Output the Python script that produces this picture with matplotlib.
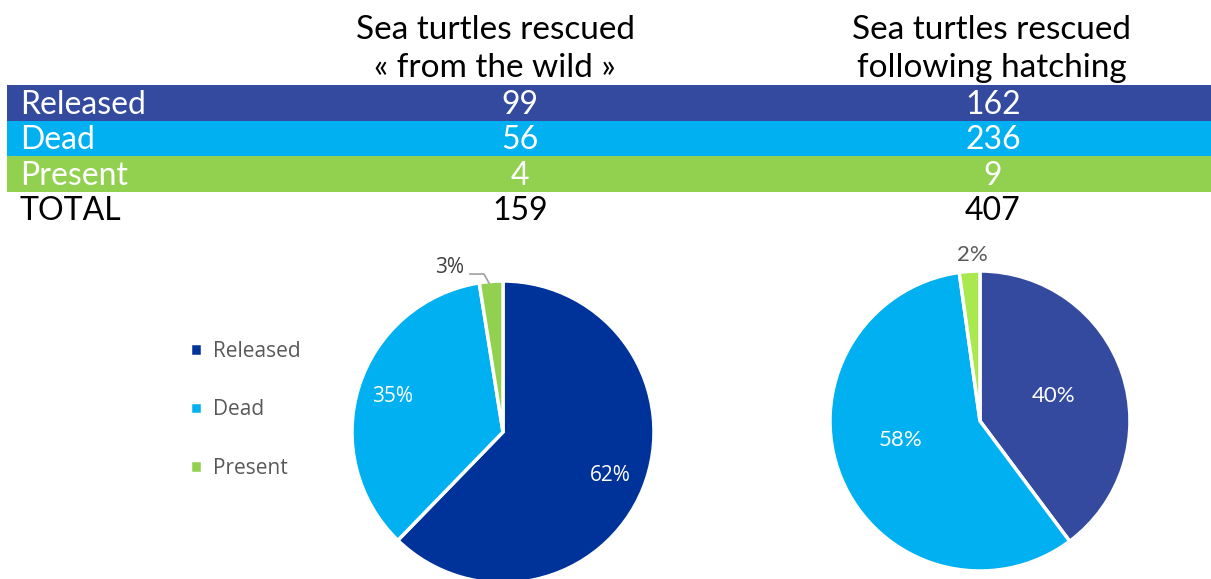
import matplotlib
matplotlib.use('Agg')
import matplotlib.pyplot as plt
from matplotlib.patches import Rectangle

categories = ['Released', 'Dead', 'Present']
column_titles = ['Sea turtles rescued\n\u00ab from the wild \u00bb',
                 'Sea turtles rescued\nfollowing hatching']
wild = [99, 56, 4]
hatching = [162, 236, 9]

band_colors = ['#334a9e', '#00b0f0', '#92d050']
pie1_colors = ['#003399', '#00b0f0', '#92d050']
pie2_colors = ['#334a9e', '#00b0f0', '#a9e94f']

W, H = 1211, 579
fig = plt.figure(figsize=(W / 100, H / 100), dpi=100)

# table area in pixel coordinates
tab = fig.add_axes([0, 0, 1, 1])
tab.set_xlim(0, W)
tab.set_ylim(H, 0)
tab.axis('off')

tfont = 'Lato'
col_x = [520, 993]
for x, title in zip([495, 992], column_titles):
    tab.text(x, 49, title, ha='center', va='center', fontsize=24,
             family=tfont, linespacing=1.3)

row_top = 85
row_h = 35.5
for i, cat in enumerate(categories):
    y0 = row_top + i * row_h
    tab.add_patch(Rectangle((7, y0), W - 7, row_h, color=band_colors[i], lw=0))
    yc = y0 + row_h / 2 + 2
    tab.text(20, yc, cat, ha='left', va='center', color='white', fontsize=23,
             family=tfont)
    for x, vals in zip(col_x, [wild, hatching]):
        tab.text(x, yc, str(vals[i]), ha='center', va='center', color='white',
                 fontsize=23, family=tfont)

yc = row_top + 3 * row_h + row_h / 2 + 2
tab.text(20, yc, 'TOTAL', ha='left', va='center', fontsize=23, family=tfont)
for x, vals in zip(col_x, [wild, hatching]):
    tab.text(x, yc, str(sum(vals)), ha='center', va='center', fontsize=23,
             family=tfont)


def pie_axes(cx, cy, r):
    ax = fig.add_axes([(cx - r) / W, (H - cy - r) / H, 2 * r / W, 2 * r / H])
    ax.axis('off')
    return ax


# left pie
ax1 = pie_axes(503, 432, 151)
wedges1, _, autos1 = ax1.pie(wild, colors=pie1_colors, startangle=90,
                             counterclock=False, radius=1,
                             wedgeprops=dict(edgecolor='white', linewidth=2.5),
                             autopct='%.0f%%', pctdistance=0.77,
                             textprops=dict(color='white', fontsize=15,
                                            family='Open Sans'))
ax1.set_aspect('auto')
ax1.set_xlim(-1, 1)
ax1.set_ylim(-1, 1)
# small slice: label outside with a leader line
autos1[2].set_position((-0.26, 1.087))
autos1[2].set_ha('right')
autos1[2].set_color('#404040')
autos1[2].set_clip_on(False)
ax1.plot([-0.218, -0.126, -0.093], [1.046, 1.046, 0.987], color='#a6a6a6',
         lw=1.3, clip_on=False, solid_joinstyle='miter')

ax1.legend(wedges1, categories, loc='center left', bbox_to_anchor=(-0.535, 0.573),
           frameon=False, handlelength=0.55, handleheight=0.55,
           handletextpad=0.55, borderaxespad=0, borderpad=0,
           labelspacing=1.8, labelcolor='#595959',
           prop=dict(family='Open Sans', size=15))

# right pie
ax2 = pie_axes(980, 421, 150)
wedges2, _, autos2 = ax2.pie(hatching, colors=pie2_colors, startangle=90,
                             counterclock=False, radius=1,
                             wedgeprops=dict(edgecolor='white', linewidth=2.5),
                             autopct='%.0f%%', pctdistance=0.52,
                             textprops=dict(color='white', fontsize=16,
                                            family=tfont))
ax2.set_aspect('auto')
ax2.set_xlim(-1, 1)
ax2.set_ylim(-1, 1)
autos2[1].set_position((-0.53, -0.13))
autos2[2].set_position((-0.05, 1.11))
autos2[2].set_color('#595959')
autos2[2].set_clip_on(False)

fig.savefig('out.png', dpi=100)
